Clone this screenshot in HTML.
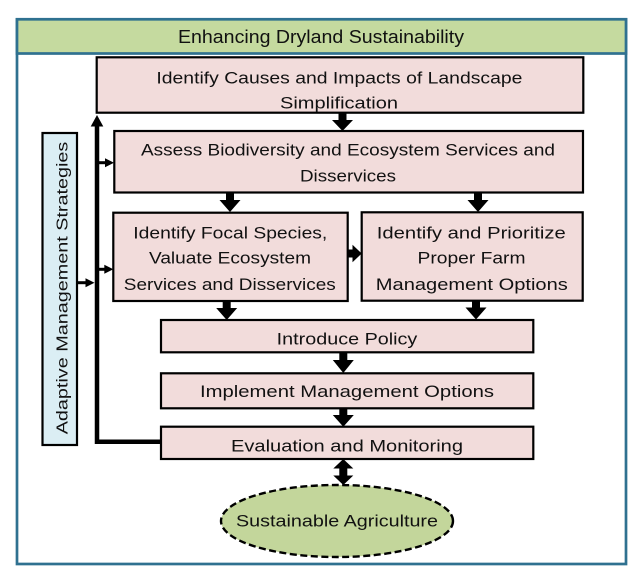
<!DOCTYPE html>
<html>
<head>
<meta charset="utf-8">
<style>
html,body{margin:0;padding:0;background:#fff;}
svg{display:block;}
text{font-family:"Liberation Sans",Arial,sans-serif;fill:#111;}
</style>
</head>
<body>
<svg width="640" height="580" viewBox="0 0 640 580" xmlns="http://www.w3.org/2000/svg">
  <rect x="0" y="0" width="640" height="580" fill="#fff"/>
  <!-- outer frame -->
  <rect x="17" y="19.3" width="609" height="544.7" fill="#fff" stroke="#2f7190" stroke-width="2.7"/>
  <rect x="17" y="19.3" width="609" height="34.2" fill="#c5da9f" stroke="#2f7190" stroke-width="2.7"/>
  <text x="321" y="43" font-size="18" text-anchor="middle" textLength="286" lengthAdjust="spacingAndGlyphs">Enhancing Dryland Sustainability</text>

  <!-- boxes -->
  <g fill="#f2dcdb" stroke="#000" stroke-width="2.2">
    <rect x="96.7" y="57.3" width="486.6" height="55.4"/>
    <rect x="114.3" y="131" width="468.7" height="61.5"/>
    <rect x="113.3" y="212.7" width="234.4" height="88.3"/>
    <rect x="361.7" y="212.3" width="221" height="88.4"/>
    <rect x="161" y="320" width="372.3" height="32.3"/>
    <rect x="161" y="373.3" width="372.3" height="35"/>
    <rect x="161" y="426.7" width="372.3" height="32.3"/>
  </g>
  <!-- adaptive box -->
  <rect x="42.5" y="133" width="34.5" height="312" fill="#dbeef4" stroke="#000" stroke-width="2.2"/>
  <text transform="translate(67.3,288) rotate(-90)" font-size="16" text-anchor="middle" textLength="292.6" lengthAdjust="spacingAndGlyphs">Adaptive Management Strategies</text>

  <!-- ellipse -->
  <ellipse cx="337" cy="521" rx="116" ry="36" fill="#c3d69b" stroke="#000" stroke-width="2.4" stroke-dasharray="7 3.5"/>

  <!-- box texts -->
  <g font-size="17" text-anchor="middle">
    <text x="339.4" y="83.3" textLength="366" lengthAdjust="spacingAndGlyphs">Identify Causes and Impacts of Landscape</text>
    <text x="339" y="108.5" textLength="118" lengthAdjust="spacingAndGlyphs">Simplification</text>
    <text x="348" y="155.7" textLength="414" lengthAdjust="spacingAndGlyphs">Assess Biodiversity and Ecosystem Services and</text>
    <text x="348" y="181.5" textLength="96" lengthAdjust="spacingAndGlyphs">Disservices</text>
    <text x="230.3" y="238.3" textLength="194" lengthAdjust="spacingAndGlyphs">Identify Focal Species,</text>
    <text x="230" y="263.3" textLength="162" lengthAdjust="spacingAndGlyphs">Valuate Ecosystem</text>
    <text x="229.8" y="290" textLength="212" lengthAdjust="spacingAndGlyphs">Services and Disservices</text>
    <text x="471.3" y="238.3" textLength="189" lengthAdjust="spacingAndGlyphs">Identify and Prioritize</text>
    <text x="471.5" y="263.3" textLength="108" lengthAdjust="spacingAndGlyphs">Proper Farm</text>
    <text x="471.8" y="290" textLength="192" lengthAdjust="spacingAndGlyphs">Management Options</text>
    <text x="347" y="344.5" textLength="140.6" lengthAdjust="spacingAndGlyphs">Introduce Policy</text>
    <text x="347" y="397" textLength="294" lengthAdjust="spacingAndGlyphs">Implement Management Options</text>
    <text x="347" y="451.5" textLength="232" lengthAdjust="spacingAndGlyphs">Evaluation and Monitoring</text>
    <text x="337" y="526.5" textLength="202" lengthAdjust="spacingAndGlyphs">Sustainable Agriculture</text>
  </g>

  <!-- block arrows -->
  <g fill="#000">
    <polygon points="338.5,112.7 346.5,112.7 346.5,120 353,120 342.5,131 332,120 338.5,120"/>
    <polygon points="226,192.5 234,192.5 234,200 240.5,200 230,212 219.5,200 226,200"/>
    <polygon points="474,192.5 482,192.5 482,200 488.5,200 478,212 467.5,200 474,200"/>
    <polygon points="222.7,301 230.7,301 230.7,308 237.2,308 226.7,320 216.2,308 222.7,308"/>
    <polygon points="472,300.7 480,300.7 480,307.5 486.5,307.5 476,319.5 465.5,307.5 472,307.5"/>
    <polygon points="339.3,352.3 347.3,352.3 347.3,360 353.8,360 343.3,373 332.8,360 339.3,360"/>
    <polygon points="339.3,408.3 347.3,408.3 347.3,415 353.8,415 343.3,426.7 332.8,415 339.3,415"/>
    <!-- double arrow -->
    <polygon points="343.3,459 353.3,468.5 347.3,468.5 347.3,475.5 353.3,475.5 343.3,485 333.3,475.5 339.3,475.5 339.3,468.5 333.3,468.5"/>
    <!-- horizontal focal -> prioritize -->
    <polygon points="347.7,249.5 352.5,249.5 352.5,244.8 361.7,253.5 352.5,262.2 352.5,257.5 347.7,257.5"/>
  </g>

  <!-- feedback line -->
  <path d="M161,441.7 H97 V125" fill="none" stroke="#000" stroke-width="4.5"/>
  <polygon points="97,115 103.3,126.5 90.7,126.5" fill="#000"/>
  <!-- small arrows -->
  <g stroke="#000" stroke-width="3">
    <line x1="99" y1="162.7" x2="106" y2="162.7"/>
    <line x1="99" y1="269.3" x2="106" y2="269.3"/>
    <line x1="77" y1="282.7" x2="86" y2="282.7"/>
  </g>
  <g fill="#000">
    <polygon points="114,162.7 105,158.2 105,167.2"/>
    <polygon points="113.3,269.3 104.3,264.8 104.3,273.8"/>
    <polygon points="94.5,282.7 85.5,278.2 85.5,287.2"/>
  </g>
</svg>
</body>
</html>
